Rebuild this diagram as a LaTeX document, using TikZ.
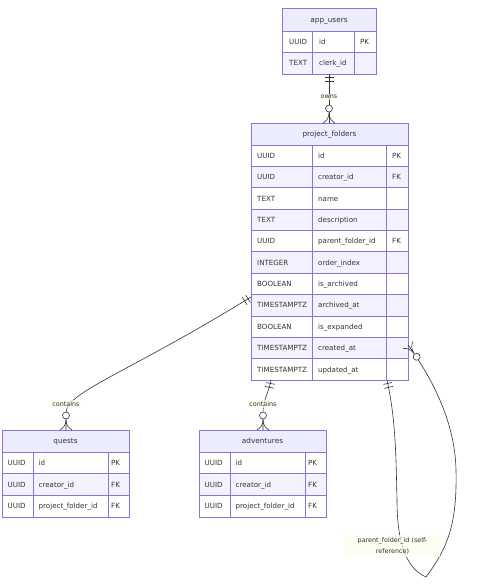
\documentclass[tikz,border=0pt]{standalone}
\usepackage{fontspec}
\setmainfont{DejaVu Sans}
\usetikzlibrary{decorations.markings,calc,fit}
\definecolor{erborder}{HTML}{9370DB}
\definecolor{erheadfill}{HTML}{ECECFF}
\definecolor{erevenfill}{HTML}{F3F3FF}
\definecolor{erline}{HTML}{333333}
\definecolor{erlabelfill}{RGB}{249,255,236}
\newcounter{cellno}
\newcommand\ercell[2]{\stepcounter{cellno}\node[ertext] (cell\arabic{cellno}) at #1 {#2};}
\newcommand\errow[6]{%
  \fill[#3] (\colA,#1) rectangle (\colD,#2);
  \draw[ergrid] (\colA,#1) rectangle (\colD,#2) (\colB,#1) -- (\colB,#2) (\colC,#1) -- (\colC,#2);
  \ercell{(\colA+\padT,{(#1+#2)/2})}{#4}
  \ercell{(\colB+\padT,{(#1+#2)/2})}{#5}
  \ercell{(\keyX,{(#1+#2)/2})}{#6}
}
\newcommand\erhead[4]{%
  \fill[erheadfill] (\colA,#2) rectangle (\colD,#3);
  \draw[ergrid] (\colA,#2) rectangle (\colD,#3);
  \node[ertitle] (#1-title) at ({(\colA+\colD)/2},{(#2+#3)/2}) {#4};
}
\newcommand\erframe[3]{%
  \node[draw=erborder, line width=0.9pt, inner sep=0pt, outer sep=0pt, fit={(\colA,#2) (\colD,#3)}] (#1) {};
}
\tikzset{
  ergrid/.style={draw=erborder, line width=0.8pt},
  ertext/.style={anchor=mid west, inner sep=0pt, text=erline, font=\fontsize{7.1}{8}\selectfont},
  ertitle/.style={anchor=mid, inner sep=0pt, text=erline, font=\fontsize{7.3}{8}\selectfont},
  erconn/.style={draw=erline, line width=0.6pt},
  ermark/.style={draw=erline, line width=0.6pt},
  edgelabel/.style={fill=erlabelfill, fill opacity=0.7, text opacity=1, text=erline, inner sep=1.2pt, font=\fontsize{6.4}{7}\selectfont},
  relmark/.style={postaction={decorate, decoration={markings,
    mark=at position 0 with {\draw[ermark] (3.5,-4.5) -- (3.5,4.5) (7.5,-4.5) -- (7.5,4.5);},
    mark=at position 0.9999 with {\draw[ermark, fill=white] (-14.5,0) circle[radius=3.5pt];
      \draw[ermark] (-10,0) .. controls (-5,0) and (-1.5,3) .. (0,6)
                    (-10,0) .. controls (-5,0) and (-1.5,-3) .. (0,-6);}
  }}},
}
\begin{document}
\begin{tikzpicture}[x=1pt, y=-1pt]
\fill[white] (0,0) rectangle (478,586);
\useasboundingbox (0,0) rectangle (478,586);

% app_users
\def\colA{282}\def\colB{312}\def\colC{354}\def\colD{376}\def\padT{7}\def\keyX{360}
\erhead{appusers}{8}{31}{app\_users}
\errow{31}{52.5}{white}{UUID}{id}{PK}
\errow{52.5}{74}{erevenfill}{TEXT}{clerk\_id}{}
\erframe{appusers}{8}{74}

% project_folders
\def\colA{251}\def\colB{312}\def\colC{386}\def\colD{408}\def\padT{6}\def\keyX{392}
\erhead{pf}{123}{145}{project\_folders}
\errow{145}{166.4}{white}{UUID}{id}{PK}
\errow{166.4}{187.7}{erevenfill}{UUID}{creator\_id}{FK}
\errow{187.7}{209.1}{white}{TEXT}{name}{}
\errow{209.1}{230.5}{erevenfill}{TEXT}{description}{}
\errow{230.5}{251.8}{white}{UUID}{parent\_folder\_id}{FK}
\errow{251.8}{273.2}{erevenfill}{INTEGER}{order\_index}{}
\errow{273.2}{294.5}{white}{BOOLEAN}{is\_archived}{}
\errow{294.5}{315.9}{erevenfill}{TIMESTAMPTZ}{archived\_at}{}
\errow{315.9}{337.3}{white}{BOOLEAN}{is\_expanded}{}
\errow{337.3}{358.6}{erevenfill}{TIMESTAMPTZ}{created\_at}{}
\errow{358.6}{380}{white}{TIMESTAMPTZ}{updated\_at}{}
\erframe{pf}{123}{380}

% quests
\def\colA{2}\def\colB{33}\def\colC{108}\def\colD{129}\def\padT{5.5}\def\keyX{111}
\erhead{quests}{430}{452}{quests}
\errow{452}{473.7}{white}{UUID}{id}{PK}
\errow{473.7}{495.3}{erevenfill}{UUID}{creator\_id}{FK}
\errow{495.3}{517}{white}{UUID}{project\_folder\_id}{FK}
\erframe{quests}{430}{517}

% adventures
\def\colA{199}\def\colB{230}\def\colC{305}\def\colD{326}\def\padT{5.5}\def\keyX{308}
\erhead{adv}{430}{452}{adventures}
\errow{452}{473.7}{white}{UUID}{id}{PK}
\errow{473.7}{495.3}{erevenfill}{UUID}{creator\_id}{FK}
\errow{495.3}{517}{white}{UUID}{project\_folder\_id}{FK}
\erframe{adv}{430}{517}

% connector end points
\coordinate (au-b) at (appusers.south);
\coordinate (pf-t) at (pf.north -| au-b);
\coordinate (pf-b1) at ($(pf.south west)+(20,0)$);
\coordinate (adv-t) at ($(adv.north west)+(64,0)$);
\coordinate (pf-l) at ($(pf.north west)+(0,174)$);
\coordinate (q-t) at ($(quests.north west)+(64,0)$);
\coordinate (pf-b2) at ($(pf.south west)+(136,0)$);
\coordinate (pf-r) at ($(pf.north east)+(0,222)$);
\coordinate (loop-a) at (397,500);
\coordinate (loop-b) at (426,577);
\coordinate (loop-c) at (456,470);

% owns
\draw[erconn, relmark] (au-b) -- (pf-t);
% contains -> adventures
\draw[erconn, relmark] (pf-b1) .. controls ($(pf-b1)+(-3,15)$) and ($(adv-t)+(0,-30)$) .. ($(adv-t)+(0,-17)$) -- (adv-t);
% contains -> quests
\draw[erconn, relmark] (pf-l) .. controls ($(pf-l)+(-125,77)$) and ($(q-t)+(0,-38)$) .. ($(q-t)+(0,-17)$) -- (q-t);
% self reference
\draw[erconn, relmark] (pf-b2) .. controls (396,420) and (396,460) .. (loop-a)
  .. controls (397,540) and (405,568) .. (loop-b)
  .. controls (450,545) and (457,520) .. (loop-c)
  .. controls (455,420) and (430,375) .. (pf-r);

% labels
\node[edgelabel] (lbl-owns) at (329,97) {owns};
\node[edgelabel] (lbl-c1) at (263,404) {contains};
\node[edgelabel] (lbl-c2) at (66,404) {contains};
\node[edgelabel, align=center, minimum width=95pt, minimum height=22pt, font=\fontsize{6.4}{11}\selectfont] (lbl-self) at (392.5,545.5) {parent\_folder\_id (self-\\reference)};
\end{tikzpicture}
\end{document}
